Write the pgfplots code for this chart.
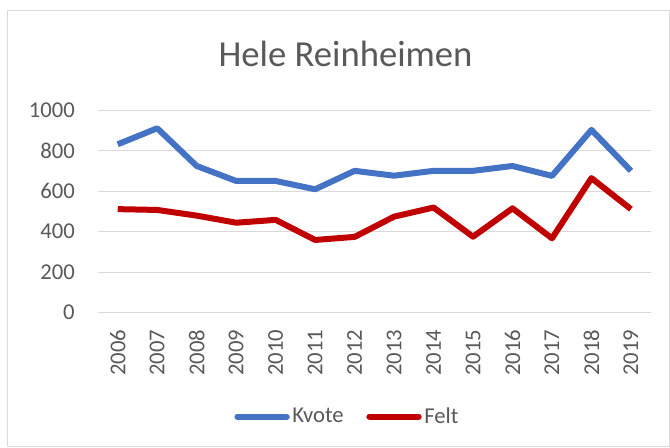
\documentclass[border=0pt]{standalone}
\usepackage{pgfplots}
\pgfplotsset{compat=1.18}
\usepackage{fontspec}
\setmainfont{Carlito}
\definecolor{kvote}{HTML}{4472C4}
\definecolor{felt}{HTML}{C00000}
\definecolor{txt}{HTML}{595959}
\definecolor{grid}{HTML}{D9D9D9}
\begin{document}
\begin{tikzpicture}
\begin{scope}[x=0.75pt,y=0.75pt]
\path[use as bounding box] (0,0) rectangle (670,447);
\draw[grid, line width=0.75pt] (7.5,0.5) rectangle (669.5,436.5);
\node[anchor=base, text=txt, font=\fontsize{27.5}{30}\selectfont, inner sep=0pt] at (345.5,380.3) {Hele Reinheimen};
\end{scope}
\begin{axis}[
  at={(73.5pt,100.725pt)}, anchor=south west,
  scale only axis,
  width=414.5pt, height=152pt,
  xmin=2005.5, xmax=2019.5,
  ymin=0, ymax=1000,
  xtick={2006,...,2019},
  ytick={0,200,...,1000},
  /pgf/number format/1000 sep={},
  /pgf/number format/assume math mode=true,
  axis line style={draw=none},
  major tick length=0pt,
  ymajorgrids,
  major grid style={color=grid, line width=0.75pt},
  tick label style={text=txt, font=\fontsize{17}{17}\selectfont},
  yticklabel style={anchor=east, inner sep=0pt, xshift=-17.25pt},
  xticklabel style={yshift=-12.75pt, rotate=90, anchor=east, inner sep=0pt},
  legend columns=2,
  legend style={at={(0.452,-0.513)}, anchor=center, draw=none, fill=none,
    font=\fontsize{17}{17}\selectfont, text=txt,
    /tikz/every even column/.append style={column sep=15pt}},
  legend image code/.code={\draw[#1, line cap=round] (0pt,0pt) -- (37pt,0pt);},
]
\addplot[kvote, line width=4.5pt, line join=round] coordinates {
(2006,831) (2007,910) (2008,724) (2009,650) (2010,650) (2011,609) (2012,700)
(2013,676) (2014,700) (2015,700) (2016,724) (2017,675) (2018,902) (2019,700)};
\addlegendentry{Kvote}
\addplot[felt, line width=4.5pt, line join=round] coordinates {
(2006,511) (2007,507) (2008,479) (2009,444) (2010,458) (2011,359) (2012,374)
(2013,474) (2014,519) (2015,375) (2016,515) (2017,367) (2018,664) (2019,511)};
\addlegendentry{Felt}
\end{axis}
\end{tikzpicture}
\end{document}
